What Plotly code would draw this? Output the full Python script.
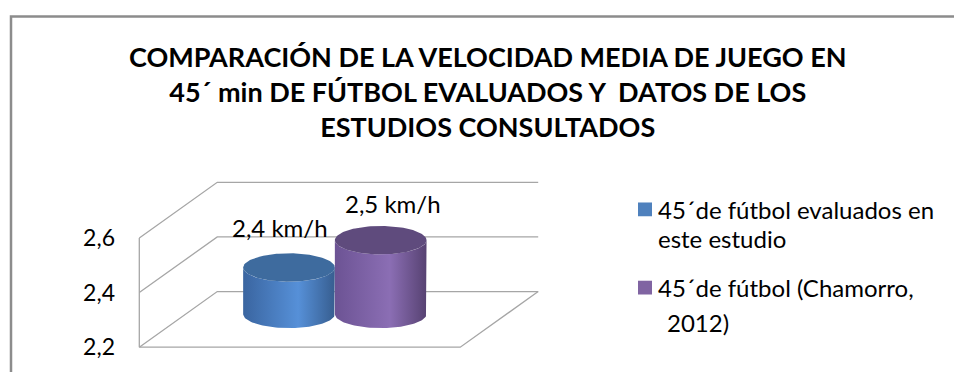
import numpy as np
import plotly.graph_objects as go

# ---------------- data ----------------
series_names = ["45´de fútbol evaluados en este estudio", "45´de fútbol (Chamorro, 2012)"]
legend_lines = [["45´de fútbol evaluados en", "este estudio"], ["45´de fútbol (Chamorro,", "2012)"]]
values = [2.4, 2.5]
value_labels = ["2,4 km/h", "2,5 km/h"]
tick_vals = [2.2, 2.4, 2.6]
tick_text = ["2,2", "2,4", "2,6"]
title_lines = ["COMPARACIÓN DE LA VELOCIDAD MEDIA DE JUEGO EN",
               "45´ min DE FÚTBOL EVALUADOS Y\u00a0 DATOS DE LOS",
               "ESTUDIOS CONSULTADOS"]

# ---------------- styling / geometry ----------------
W, H = 954, 372
FONT = "Lato, 'Open Sans', sans-serif"
body_scales = [
    [[0, "#3a65a0"], [0.6, "#5690d8"], [1, "#375e90"]],
    [[0, "#6c5394"], [0.6, "#8b6eb4"], [1, "#574272"]],
]
top_colors = ["#3e6b9e", "#5f4b7d"]
legend_colors = ["#4f81bd", "#8064a2"]
grid_color = "#a6a6a6"

PX_X = 91.7          # pixels per x unit
PX_Y = 277.5         # pixels per value unit
X0_PX, Y0_PX = 139.3, 350.0   # front-left floor corner
Xw0, Xw1 = -1.25, 2.25        # wall extent (x units)
DX, DY = 0.85, 0.2036         # depth offset (x units, value units)
BASE = min(tick_vals)
DEPTH = 0.45                  # cylinder depth position (0 front, 1 back)
R = 0.5                       # cylinder radius (x units)
E = 0.052                     # ellipse semi-minor (value units)
FLOOR_T = 0.03

L_PX, R_PX, T_PX, B_PX = 120, 600, 170, 360


def xd(px):
    return Xw0 + (px - X0_PX) / PX_X


def yd(py):
    return BASE + (Y0_PX - py) / PX_Y


def paper_x(px):
    return (px - L_PX) / (R_PX - L_PX)


def paper_y(py):
    return (B_PX - py) / (B_PX - T_PX)


fig = go.Figure()

# ---------------- walls / gridlines ----------------
gx, gy = [], []
for v in tick_vals:
    gx += [Xw0, Xw0 + DX, Xw1 + DX, None]
    gy += [v, v + DY, v + DY, None]
gx += [Xw0, Xw0, None]
gy += [min(tick_vals), max(tick_vals), None]
gx += [Xw0, Xw1, Xw1 + DX, None]
gy += [BASE, BASE, BASE + DY, None]
fig.add_trace(go.Scatter(x=gx, y=gy, mode="lines", line=dict(color=grid_color, width=1.3),
                         hoverinfo="skip", showlegend=False, cliponaxis=False))

# ---------------- cylinders ----------------
th_front = np.linspace(np.pi, 0, 60)
th_full = np.linspace(0, 2 * np.pi, 120)
for i, v in enumerate(values):
    cx = i + DEPTH * DX
    yb = BASE + FLOOR_T + DEPTH * DY
    yt = v + DEPTH * DY
    bx = np.concatenate([[cx - R], cx + R * np.cos(th_front), [cx + R],
                         cx + R * np.cos(th_front[::-1])])
    by = np.concatenate([[yb], yt - E * np.sin(th_front), [yb],
                         yb - E * np.sin(th_front[::-1])])
    fig.add_trace(go.Scatter(
        x=bx, y=by, mode="lines", fill="toself", line=dict(width=0),
        fillgradient=dict(type="horizontal", colorscale=body_scales[i], start=cx - R, stop=cx + R),
        name=series_names[i], showlegend=False, hoverinfo="skip"))
    fig.add_trace(go.Scatter(
        x=cx + R * np.cos(th_full), y=yt + E * np.sin(th_full), mode="lines", fill="toself",
        fillcolor=top_colors[i], line=dict(width=0), showlegend=False, hoverinfo="skip"))
    fig.add_annotation(x=cx, y=yt, xref="x", yref="y", text=value_labels[i], showarrow=False,
                       xshift=[-9, 12][i], yshift=[40, 37][i],
                       font=dict(family=FONT, size=24, color="#000"))

# ---------------- title ----------------
fig.add_annotation(x=paper_x(487), y=paper_y(90), xref="paper", yref="paper",
                   text="<br>".join(title_lines), showarrow=False, align="center",
                   xanchor="center", yanchor="middle",
                   font=dict(family=FONT, size=27, color="#000", weight="bold"))

# ---------------- legend (manual) ----------------
sq_y = [210, 289.5]
line_y = [[210, 240], [289.5, 325]]
line_x = [[656, 656], [656, 665]]
shapes = []
for i in range(len(series_names)):
    shapes.append(dict(type="rect", xref="paper", yref="paper",
                       x0=paper_x(638), x1=paper_x(652),
                       y0=paper_y(sq_y[i] - 7), y1=paper_y(sq_y[i] + 7),
                       fillcolor=legend_colors[i], line=dict(width=0)))
    for j, t in enumerate(legend_lines[i]):
        fig.add_annotation(x=paper_x(line_x[i][j]), y=paper_y(line_y[i][j]), xref="paper", yref="paper",
                           text=t, showarrow=False, xanchor="left", yanchor="middle",
                           font=dict(family=FONT, size=24, color="#000"))

# chart border
shapes.append(dict(type="rect", xref="paper", yref="paper",
                   x0=paper_x(11), x1=paper_x(1000), y0=paper_y(400), y1=paper_y(14),
                   line=dict(color="#8c8c8c", width=2.5), fillcolor="rgba(0,0,0,0)", layer="above"))

fig.update_layout(
    width=W, height=H, autosize=False,
    margin=dict(l=L_PX, r=W - R_PX, t=T_PX, b=H - B_PX, pad=0),
    paper_bgcolor="white", plot_bgcolor="white",
    shapes=shapes,
    xaxis=dict(range=[xd(L_PX), xd(R_PX)], visible=False, fixedrange=True),
    yaxis=dict(range=[yd(B_PX), yd(T_PX)], tickvals=tick_vals, ticktext=tick_text,
               showgrid=False, zeroline=False, showline=False, ticks="",
               ticklabelstandoff=4, tickfont=dict(family=FONT, size=23, color="#000"),
               fixedrange=True),
    showlegend=False,
)

fig.write_html("out.html")
